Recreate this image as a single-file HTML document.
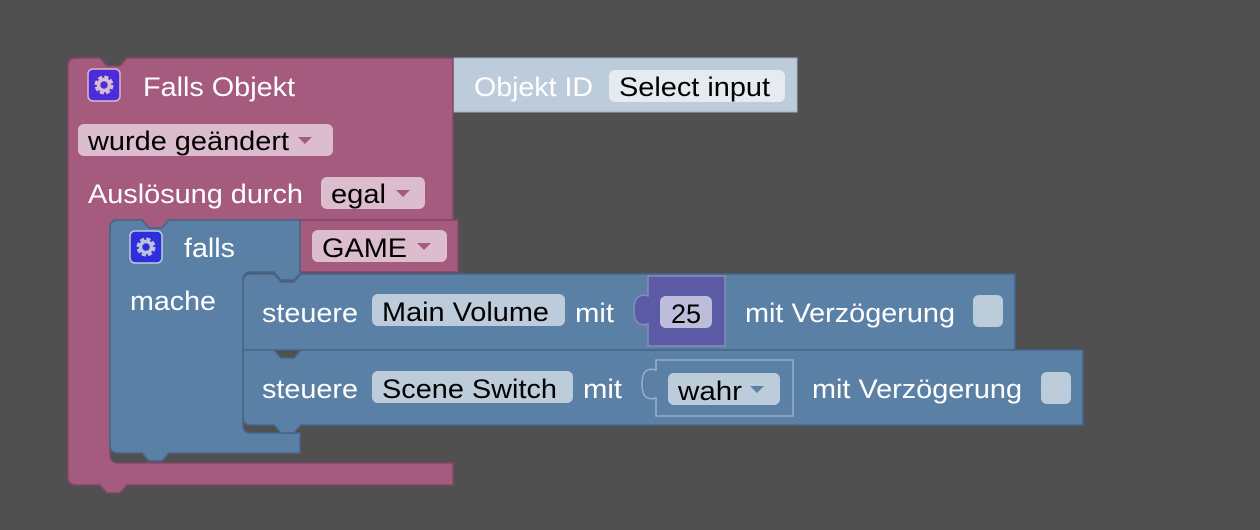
<!DOCTYPE html>
<html><head><meta charset="utf-8"><style>
html,body{margin:0;padding:0;background:#505050;}
svg{display:block}
text{font-family:"Liberation Sans",sans-serif;font-size:27px;}
.w{fill:#fff}.b{fill:#000}
</style></head><body>
<svg width="1260" height="530" viewBox="0 0 1260 530">
<rect width="1260" height="530" fill="#505050"/>
<path d="M453,58 H797 V112 H453 V100 q-14,4 -14,-14 q0,-18 14,-14 Z" fill="#bdccdb" stroke="#a2b1c0" stroke-width="1"/>
<rect x="609" y="70" width="176" height="32" rx="6" fill="#e6ebf1"/>
<text x="474" y="96" class="w" textLength="119" lengthAdjust="spacingAndGlyphs">Objekt ID</text>
<text x="619" y="96" class="b" textLength="151" lengthAdjust="spacingAndGlyphs">Select input</text>
<path d="M68,66 q0,-8 8,-8 h24 l7,8 h13 l7,-8 H453 V220 H169 l-7,8 h-13 l-7,-8 H118 q-8,0 -8,8 V455 q0,8 8,8 H453 V485 H127 l-7,8 h-13 l-7,-8 H76 q-8,0 -8,-8 Z" fill="#a55b7e" stroke="#84466a" stroke-width="1.5"/>
<rect x="88" y="69" width="32" height="32" rx="5" fill="#4a2dd8" stroke="#dbb8cb" stroke-width="1.5"/>
<circle cx="104" cy="85" r="7.5" fill="none" stroke="#d8bed0" stroke-width="4" stroke-dasharray="3.9 2"/>
<circle cx="104" cy="85" r="5.5" fill="none" stroke="#d8bed0" stroke-width="3.5"/>
<text x="143" y="96" class="w" textLength="152" lengthAdjust="spacingAndGlyphs">Falls Objekt</text>
<rect x="78" y="124" width="255" height="32" rx="6" fill="#dbbdcd"/>
<text x="88" y="150" class="b" textLength="201" lengthAdjust="spacingAndGlyphs">wurde geändert</text>
<path d="M298,137 h14 l-7,7 Z" fill="#a55b7e"/>
<text x="88" y="203" class="w" textLength="215" lengthAdjust="spacingAndGlyphs">Auslösung durch</text>
<rect x="321" y="177" width="104" height="32" rx="6" fill="#dbbdcd"/>
<text x="331" y="203" class="b" textLength="55" lengthAdjust="spacingAndGlyphs">egal</text>
<path d="M396,190 h14 l-7,7 Z" fill="#a55b7e"/>
<path d="M300,220 H458 V272 H300 V262 q-14,4 -14,-14 q0,-18 14,-14 Z" fill="#a55b7e" stroke="#84466a" stroke-width="1.5"/>
<rect x="312" y="230" width="135" height="32" rx="6" fill="#dbbdcd"/>
<text x="322" y="257" class="b" textLength="85" lengthAdjust="spacingAndGlyphs">GAME</text>
<path d="M417,243 h14 l-7,7 Z" fill="#a55b7e"/>
<path d="M110,228 q0,-8 8,-8 h24 l7,8 h13 l7,-8 H300 V272 H301 l-7,8 h-13 l-7,-8 H251 q-8,0 -8,8 V425 q0,8 8,8 H300 V453 H169 l-7,8 h-13 l-7,-8 H118 q-8,0 -8,-8 Z" fill="#5b80a5" stroke="#46658a" stroke-width="1.5"/>
<rect x="130" y="231" width="32" height="32" rx="5" fill="#2e2edc" stroke="#bdccdb" stroke-width="1.5"/>
<circle cx="146" cy="247" r="7.5" fill="none" stroke="#bdc3db" stroke-width="4" stroke-dasharray="3.9 2"/>
<circle cx="146" cy="247" r="5.5" fill="none" stroke="#bdc3db" stroke-width="3.5"/>
<text x="184" y="257" class="w" textLength="51" lengthAdjust="spacingAndGlyphs">falls</text>
<text x="130" y="310" class="w" textLength="86" lengthAdjust="spacingAndGlyphs">mache</text>
<path d="M243,282 q0,-8 8,-8 h23 l7,8 h13 l7,-8 H1015 V350 H243 Z" fill="#5b80a5" stroke="#46658a" stroke-width="1.5"/>
<text x="262" y="322" class="w" textLength="96" lengthAdjust="spacingAndGlyphs">steuere</text>
<rect x="372" y="294" width="193" height="32" rx="6" fill="#bdccdb"/>
<text x="382" y="321" class="b" textLength="167" lengthAdjust="spacingAndGlyphs">Main Volume</text>
<text x="575" y="322" class="w" textLength="39" lengthAdjust="spacingAndGlyphs">mit</text>
<path d="M648,276 H725 V346 H648 V324 q-14,4 -14,-14 q0,-18 14,-14 Z" fill="#5b5ba5" stroke="#8a8ab8" stroke-width="1.5"/>
<rect x="660" y="296" width="52" height="32" rx="6" fill="#bdbddb"/>
<text x="686" y="323" class="b" text-anchor="middle">25</text>
<text x="745" y="322" class="w" textLength="210" lengthAdjust="spacingAndGlyphs">mit Verzögerung</text>
<rect x="973" y="295" width="30" height="32" rx="6" fill="#bdccdb"/>
<path d="M243,350 H274 l7,8 h13 l7,-8 H1083 V425 H301 l-7,8 h-13 l-7,-8 H251 q-8,0 -8,-8 Z" fill="#5b80a5" stroke="#46658a" stroke-width="1.5"/>
<text x="262" y="398" class="w" textLength="96" lengthAdjust="spacingAndGlyphs">steuere</text>
<rect x="372" y="371" width="201" height="32" rx="6" fill="#bdccdb"/>
<text x="382" y="398" class="b" textLength="175" lengthAdjust="spacingAndGlyphs">Scene Switch</text>
<text x="583" y="398" class="w" textLength="39" lengthAdjust="spacingAndGlyphs">mit</text>
<path d="M656,360 H793 V416 H656 V398 q-14,4 -14,-14 q0,-18 14,-14 Z" fill="#5b80a5" stroke="#9ab0c8" stroke-width="1.5"/>
<rect x="668" y="373" width="112" height="32" rx="6" fill="#bdccdb"/>
<text x="678" y="400" class="b" textLength="64" lengthAdjust="spacingAndGlyphs">wahr</text>
<path d="M750,386 h14 l-7,7 Z" fill="#5b80a5"/>
<text x="812" y="398" class="w" textLength="210" lengthAdjust="spacingAndGlyphs">mit Verzögerung</text>
<rect x="1041" y="372" width="30" height="32" rx="6" fill="#bdccdb"/>
</svg>
</body></html>
